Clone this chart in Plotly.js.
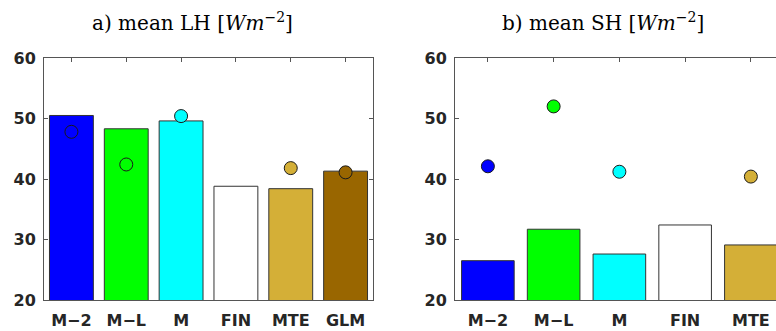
<!DOCTYPE html>
<html>
<head>
<meta charset="utf-8">
<script src="https://cdn.plot.ly/plotly-3.0.1.min.js"></script>
<style>
html, body { margin: 0; padding: 0; overflow: hidden; background: #fff; }
#chart { width: 850px; height: 331px; }
</style>
</head>
<body>
<div id="chart"></div>
<script>
// ---- data ----
const categories = ['M−2', 'M−L', 'M', 'FIN', 'MTE', 'GLM'];
const barColors = ['#0000ff', '#00ff00', '#00ffff', '#ffffff', '#d4af37', '#996600'];
const lhBars = [50.5, 48.3, 49.6, 38.8, 38.4, 41.3];
const lhDots = [47.8, 42.4, 50.4, null, 41.8, 41.1];
const shBars = [26.5, 31.7, 27.6, 32.4, 29.1, null];
const shDots = [42.1, 52.0, 41.2, null, 40.4, null];
const yTicks = [20, 30, 40, 50, 60];
const titleA = 'a) mean LH [<i>Wm</i><sup>−2</sup>]';
const titleB = 'b) mean SH [<i>Wm</i><sup>−2</sup>]';

// ---- layout helpers ----
const W = 850, H = 331;
const px = v => v / W;
const py = v => 1 - v / H;

const barLine = { color: '#333333', width: 1 };
const dotLine = { color: '#1a1a1a', width: 1 };

const traces = [
  { type: 'bar', x: categories, y: lhBars, width: 0.8, xaxis: 'x', yaxis: 'y',
    marker: { color: barColors, line: barLine }, showlegend: false, hoverinfo: 'skip' },
  { type: 'scatter', mode: 'markers', x: categories, y: lhDots, xaxis: 'x', yaxis: 'y',
    marker: { symbol: 'circle', size: 13, color: barColors, line: dotLine },
    showlegend: false, hoverinfo: 'skip', cliponaxis: false },
  { type: 'bar', x: categories, y: shBars, width: 0.8, xaxis: 'x2', yaxis: 'y2',
    marker: { color: barColors, line: barLine }, showlegend: false, hoverinfo: 'skip' },
  { type: 'scatter', mode: 'markers', x: categories, y: shDots, xaxis: 'x2', yaxis: 'y2',
    marker: { symbol: 'circle', size: 13, color: barColors, line: dotLine },
    showlegend: false, hoverinfo: 'skip', cliponaxis: false }
];

const tickFont = { family: 'DejaVu Sans, sans-serif', size: 16, color: '#262626', weight: 'bold' };
const axCommon = {
  showline: true, linecolor: '#555555', linewidth: 1, mirror: 'ticks',
  ticks: 'inside', ticklen: 4, tickcolor: '#555555', tickwidth: 1,
  showgrid: false, zeroline: false, automargin: false, tickfont: tickFont,
  layer: 'below traces', fixedrange: true
};

const yDom = [py(300), py(58)];

const layout = {
  width: W, height: H,
  margin: { l: 0, r: 0, t: 0, b: 0, pad: 0 },
  paper_bgcolor: '#ffffff', plot_bgcolor: '#ffffff',
  bargap: 0.2,
  xaxis: Object.assign({}, axCommon, { domain: [px(44), px(373)], anchor: 'y',
    type: 'category', categoryorder: 'array', categoryarray: categories, range: [-0.5, 5.5],
    ticklabelstandoff: 6 }),
  yaxis: Object.assign({}, axCommon, { domain: yDom, anchor: 'x', range: [20, 60],
    tickvals: yTicks, ticklabelstandoff: 4 }),
  xaxis2: Object.assign({}, axCommon, { domain: [px(455), px(849.5)], anchor: 'y2',
    type: 'category', categoryorder: 'array', categoryarray: categories, range: [-0.5, 5.5],
    ticklabelstandoff: 6 }),
  yaxis2: Object.assign({}, axCommon, { domain: yDom, anchor: 'x2', range: [20, 60],
    tickvals: yTicks, ticklabelstandoff: 4 }),
  annotations: [
    { text: titleA, xref: 'paper', yref: 'paper', x: px(192), y: py(22),
      xanchor: 'center', yanchor: 'middle', showarrow: false,
      font: { family: 'DejaVu Serif, serif', size: 20, color: '#000000' } },
    { text: titleB, xref: 'paper', yref: 'paper', x: px(603), y: py(22),
      xanchor: 'center', yanchor: 'middle', showarrow: false,
      font: { family: 'DejaVu Serif, serif', size: 20, color: '#000000' } }
  ]
};

Plotly.newPlot('chart', traces, layout, { staticPlot: true, displayModeBar: false });
</script>
</body>
</html>
